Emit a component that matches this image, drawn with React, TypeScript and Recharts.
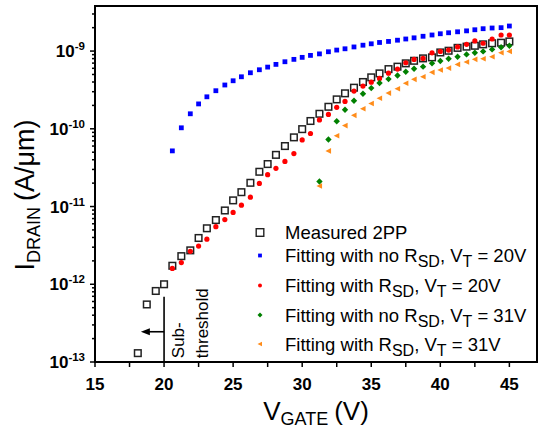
import React from "react";
import {
  ScatterChart,
  Scatter,
  XAxis,
  YAxis,
  Legend,
  Label,
  ReferenceArea,
  ReferenceLine,
  ReferenceDot,
} from "recharts";

const FONT = "'Liberation Sans', Arial, Helvetica, sans-serif";

// gate voltages of the sweep (V)
const vGate = [
  18.1, 18.75, 19.4, 20.0, 20.6, 21.25, 21.9, 22.5, 23.1, 23.75, 24.4, 25.0, 25.6, 26.25, 26.9, 27.5,
  28.1, 28.75, 29.4, 30.0, 30.6, 31.25, 31.9, 32.5, 33.1, 33.75, 34.4, 35.0, 35.6, 36.25, 36.9, 37.5,
  38.1, 38.75, 39.4, 40.0, 40.6, 41.25, 41.9, 42.5, 43.1, 43.75, 44.4, 45.0,
];

// measured 2PP drain current (A/um), one per vGate
const measured2PP = [
  1.3e-13, 5.5e-13, 8.2e-13, 1.0e-12, 1.73e-12, 2.3e-12, 2.73e-12, 3.94e-12, 5.25e-12, 6.7e-12,
  8.9e-12, 1.2e-11, 1.53e-11, 2.02e-11, 2.8e-11, 3.52e-11, 4.62e-11, 6.0e-11, 7.76e-11, 9.9e-11,
  1.26e-10, 1.56e-10, 1.92e-10, 2.39e-10, 2.86e-10, 3.38e-10, 4.0e-10, 4.59e-10, 5.16e-10, 5.86e-10,
  6.3e-10, 6.95e-10, 7.5e-10, 8.05e-10, 8.3e-10, 9.6e-10, 1.01e-9, 1.1e-9, 1.14e-9, 1.17e-9,
  1.22e-9, 1.26e-9, 1.28e-9, 1.33e-9,
];

// fits with VT = 20V start at 20.6 V
const vGate20 = vGate.slice(4);
const fitNoRsd20 = [
  5.2e-11, 1.03e-10, 1.56e-10, 2.09e-10, 2.58e-10, 3.09e-10, 3.66e-10, 4.15e-10, 4.67e-10, 5.26e-10,
  5.75e-10, 6.22e-10, 6.74e-10, 7.29e-10, 7.82e-10, 8.3e-10, 8.8e-10, 9.2e-10, 9.8e-10, 1.03e-9,
  1.07e-9, 1.13e-9, 1.19e-9, 1.24e-9, 1.29e-9, 1.33e-9, 1.38e-9, 1.43e-9, 1.48e-9, 1.55e-9,
  1.61e-9, 1.67e-9, 1.72e-9, 1.77e-9, 1.82e-9, 1.88e-9, 1.94e-9, 1.98e-9, 2.0e-9, 2.1e-9,
];
const fitRsd20 = [
  1.6e-12, 1.9e-12, 2.65e-12, 3.1e-12, 3.8e-12, 5.5e-12, 6.8e-12, 8.4e-12, 1.04e-11, 1.32e-11,
  1.98e-11, 2.57e-11, 3.1e-11, 3.8e-11, 4.8e-11, 7.2e-11, 8.7e-11, 1.3e-10, 1.53e-10, 1.89e-10,
  2.25e-10, 3.06e-10, 3.55e-10, 3.98e-10, 4.45e-10, 5.2e-10, 5.86e-10, 7.07e-10, 7.8e-10, 8.05e-10,
  9.5e-10, 9.9e-10, 1.03e-9, 1.13e-9, 1.22e-9, 1.35e-9, 1.26e-9, 1.43e-9, 1.61e-9, 1.61e-9,
];

// fits with VT = 31V start at 31.25 V
const vGate31 = vGate.slice(21);
const fitNoRsd31 = [
  2.1e-11, 7.3e-11, 1.25e-10, 1.76e-10, 2.3e-10, 2.83e-10, 3.34e-10, 3.88e-10, 4.36e-10, 4.86e-10,
  5.42e-10, 5.92e-10, 6.3e-10, 6.95e-10, 7.44e-10, 7.96e-10, 8.45e-10, 9.06e-10, 9.5e-10, 9.9e-10,
  1.05e-9, 1.12e-9, 1.17e-9,
];
const fitRsd31 = [
  1.84e-11, 5.2e-11, 8.13e-11, 1.1e-10, 1.49e-10, 1.81e-10, 2.12e-10, 2.47e-10, 2.88e-10, 3.27e-10,
  3.85e-10, 4.33e-10, 4.67e-10, 5.32e-10, 5.7e-10, 6.04e-10, 6.74e-10, 7.22e-10, 7.82e-10, 7.96e-10,
  8.45e-10, 9.5e-10, 9.9e-10,
];

const xTicks = [15, 17.5, 20, 22.5, 25, 27.5, 30, 32.5, 35, 37.5, 40, 42.5, 45];
const yDecades = [1e-13, 1e-12, 1e-11, 1e-10, 1e-9];
const yMinorMult = [2, 3, 4, 5, 6, 7, 8, 9];
const yTicks: number[] = [];
yDecades.forEach((d) => {
  yTicks.push(d);
  yMinorMult.forEach((m) => {
    if (d * m < 3.8e-9) yTicks.push(d * m);
  });
});

const X_DOMAIN = [15, 47];
const Y_DOMAIN = [1e-13, 3.8e-9];

const toPts = (xs: number[], ys: number[]) => ys.map((y, i) => ({ x: xs[i], y }));

const measuredPts = toPts(vGate, measured2PP);
const noRsd20Pts = toPts(vGate20, fitNoRsd20);
const rsd20Pts = toPts(vGate20, fitRsd20);
const noRsd31Pts = toPts(vGate31, fitNoRsd31);
const rsd31Pts = toPts(vGate31, fitRsd31);

const BLUE = "#0000ff";
const RED = "#ff0000";
const GREEN = "#008000";
const ORANGE = "#ff8c1a";

const OpenSquare = (p: any) => (
  <rect x={p.cx - 3.3} y={p.cy - 3.3} width={6.6} height={6.6} fill="none" stroke="#222" strokeWidth={1.5} />
);
const BlueSquare = (p: any) => (
  <rect x={p.cx - 2.4} y={p.cy - 2.4} width={4.8} height={4.8} fill={BLUE} />
);
const RedDot = (p: any) => <circle cx={p.cx} cy={p.cy} r={2.6} fill={RED} />;
const GreenDiamond = (p: any) => (
  <path d={`M${p.cx},${p.cy - 3.2}L${p.cx + 3.2},${p.cy}L${p.cx},${p.cy + 3.2}L${p.cx - 3.2},${p.cy}Z`} fill={GREEN} />
);
const OrangeTri = (p: any) => (
  <path d={`M${p.cx - 3},${p.cy}L${p.cx + 2.6},${p.cy - 2.8}L${p.cx + 2.6},${p.cy + 2.8}Z`} fill={ORANGE} />
);

function YTick({ x, y, payload }: any) {
  const e = Math.log10(payload.value);
  const major = Math.abs(e - Math.round(e)) < 1e-6;
  return (
    <g>
      <line x1={x} x2={x - (major ? 5 : 3)} y1={y} y2={y} stroke="#000" strokeWidth={1.5} />
      {major && (
        <text x={x - 10} y={y + 6} textAnchor="end" fontSize={17} fontWeight="bold" fill="#000" fontFamily={FONT}>
          10
          <tspan dy={-7} fontSize={11.5}>
            {String(Math.round(e))}
          </tspan>
        </text>
      )}
    </g>
  );
}

function YTitle({ viewBox }: any) {
  const cx = viewBox.x + 34;
  const cy = viewBox.y + viewBox.height / 2 + 11;
  return (
    <text x={cx} y={cy} transform={`rotate(-90, ${cx}, ${cy})`} textAnchor="middle" fontFamily={FONT} fontSize={27} fill="#000">
      I
      <tspan dy={6} fontSize={18}>DRAIN</tspan>
      <tspan dy={-6} dx={6}>(A/μm)</tspan>
    </text>
  );
}

function XTitle({ viewBox }: any) {
  const cx = viewBox.x + viewBox.width / 2;
  const cy = viewBox.y + 57.5;
  return (
    <text x={cx} y={cy} textAnchor="middle" fontFamily={FONT} fontSize={26} fill="#000">
      V
      <tspan dy={5} fontSize={18}>GATE</tspan>
      <tspan dy={-5} dx={6}>(V)</tspan>
    </text>
  );
}

const legendRows = [
  { key: "m", base: 21 },
  { key: "b", base: 44 },
  { key: "r", base: 74 },
  { key: "g", base: 103.5 },
  { key: "o", base: 132.5 },
];

function LegendBox() {
  const mx = 15;
  const tx = 40;
  const my = (i: number) => legendRows[i].base - 6.5;
  const fitText = (withNo: boolean, vt: string, base: number) => (
    <text x={tx} y={base} fontFamily={FONT} fontSize={18.5} fill="#000">
      {withNo ? "Fitting with no R" : "Fitting with R"}
      <tspan dy={5} fontSize={16}>SD</tspan>
      <tspan dy={-5}>, V</tspan>
      <tspan dy={5} fontSize={16}>T</tspan>
      <tspan dy={-5}>{` = ${vt}`}</tspan>
    </text>
  );
  return (
    <svg width={294} height={140} style={{ display: "block" }}>
      <rect x={mx - 3.8} y={my(0) - 3.8} width={7.6} height={7.6} fill="none" stroke="#222" strokeWidth={1.4} />
      <text x={tx} y={legendRows[0].base} fontFamily={FONT} fontSize={18.5} fill="#000">Measured 2PP</text>
      <rect x={mx - 1.9} y={my(1) - 1.9} width={3.8} height={3.8} fill={BLUE} />
      {fitText(true, "20V", legendRows[1].base)}
      <circle cx={mx} cy={my(2)} r={2} fill={RED} />
      {fitText(false, "20V", legendRows[2].base)}
      <path d={`M${mx},${my(3) - 2.5}L${mx + 2.5},${my(3)}L${mx},${my(3) + 2.5}L${mx - 2.5},${my(3)}Z`} fill={GREEN} />
      {fitText(true, "31V", legendRows[3].base)}
      <path d={`M${mx - 2.5},${my(4)}L${mx + 2},${my(4) - 2.3}L${mx + 2},${my(4) + 2.3}Z`} fill={ORANGE} />
      {fitText(false, "31V", legendRows[4].base)}
    </svg>
  );
}

export default function App() {
  return (
    <div style={{ position: "absolute", left: 0, top: 0, width: 539, height: 428, background: "#fff" }}>
      <ScatterChart width={539} height={428} margin={{ top: 6, right: 2, bottom: 0, left: 0 }}>
        <XAxis
          type="number"
          dataKey="x"
          domain={X_DOMAIN}
          allowDataOverflow
          ticks={xTicks}
          interval={0}
          height={66}
          axisLine={false}
          tickSize={5}
          tickMargin={11}
          tickLine={{ stroke: "#000", strokeWidth: 1.5 }}
          tickFormatter={(v: number) => (v % 5 === 0 ? String(v) : "")}
          tick={{ fill: "#000", fontSize: 17, fontWeight: "bold", fontFamily: FONT }}
        >
          <Label content={XTitle} />
        </XAxis>
        <YAxis
          type="number"
          dataKey="y"
          scale="log"
          domain={Y_DOMAIN}
          allowDataOverflow
          ticks={yTicks}
          interval={0}
          width={95}
          axisLine={false}
          tickLine={false}
          tickSize={0}
          tickMargin={0}
          tick={<YTick />}
        >
          <Label content={YTitle} />
        </YAxis>
        <ReferenceArea
          x1={X_DOMAIN[0]}
          x2={X_DOMAIN[1]}
          y1={Y_DOMAIN[0]}
          y2={Y_DOMAIN[1]}
          fill="none"
          stroke="#000"
          strokeWidth={2}
          ifOverflow="visible"
        />
        <ReferenceLine
          segment={[{ x: 20, y: 1e-13 }, { x: 20, y: 6.9e-13 }]}
          stroke="#000"
          strokeWidth={1.6}
          ifOverflow="visible"
        />
        <ReferenceLine
          segment={[{ x: 20, y: 2.45e-13 }, { x: 18.8, y: 2.45e-13 }]}
          stroke="#000"
          strokeWidth={1.6}
          ifOverflow="visible"
        />
        <ReferenceDot
          x={18.32}
          y={2.45e-13}
          ifOverflow="visible"
          shape={(p: any) => (
            <path d={`M${p.cx},${p.cy}L${p.cx + 9},${p.cy - 3.5}L${p.cx + 9},${p.cy + 3.5}Z`} fill="#000" />
          )}
        />
        <ReferenceDot
          x={21.45}
          y={1.12e-13}
          ifOverflow="visible"
          shape={(p: any) => (
            <text x={p.cx} y={p.cy} transform={`rotate(-90, ${p.cx}, ${p.cy})`} fontFamily={FONT} fontSize={17} fill="#000">
              Sub-
            </text>
          )}
        />
        <ReferenceDot
          x={23.2}
          y={1.12e-13}
          ifOverflow="visible"
          shape={(p: any) => (
            <text x={p.cx} y={p.cy} transform={`rotate(-90, ${p.cx}, ${p.cy})`} fontFamily={FONT} fontSize={17} fill="#000">
              threshold
            </text>
          )}
        />
        <Scatter name="Measured 2PP" data={measuredPts} shape={OpenSquare} isAnimationActive={false} />
        <Scatter name="Fitting with no RSD, VT = 20V" data={noRsd20Pts} shape={BlueSquare} isAnimationActive={false} />
        <Scatter name="Fitting with RSD, VT = 20V" data={rsd20Pts} shape={RedDot} isAnimationActive={false} />
        <Scatter name="Fitting with no RSD, VT = 31V" data={noRsd31Pts} shape={GreenDiamond} isAnimationActive={false} />
        <Scatter name="Fitting with RSD, VT = 31V" data={rsd31Pts} shape={OrangeTri} isAnimationActive={false} />
        <Legend
          layout="vertical"
          align="center"
          verticalAlign="middle"
          content={() => <LegendBox />}
          wrapperStyle={{ left: 245, top: 218, width: 294, height: 140 }}
        />
      </ScatterChart>
    </div>
  );
}
